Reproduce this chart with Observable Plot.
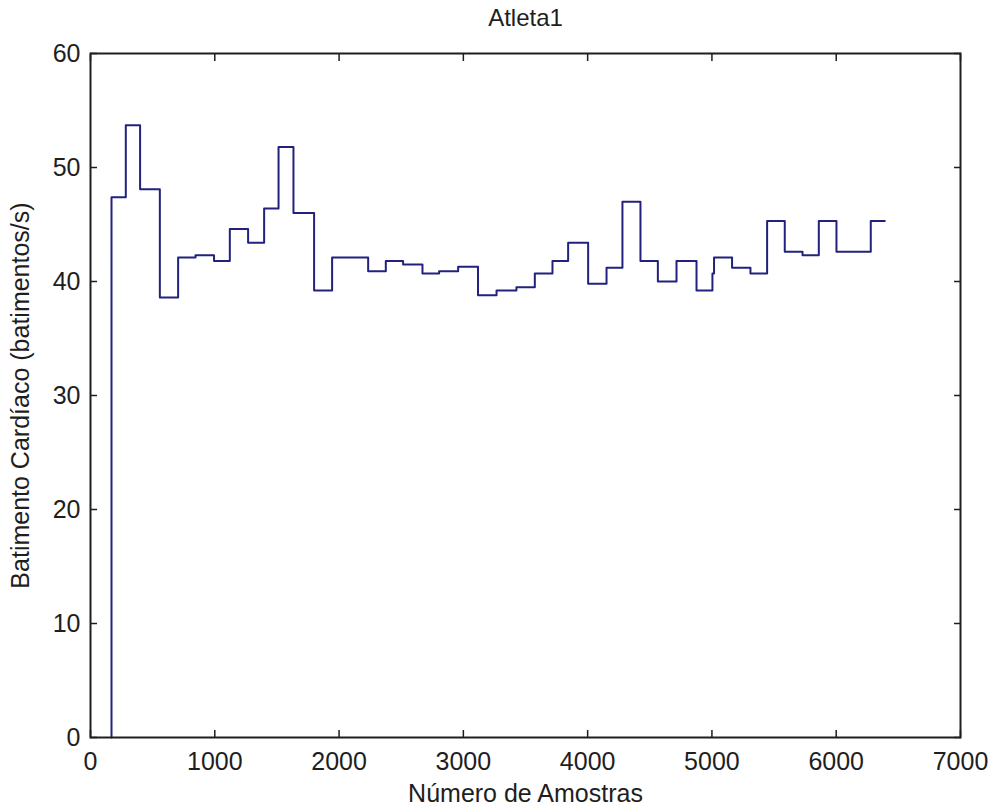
<!DOCTYPE html>
<html>
<head>
<meta charset="utf-8">
<script src="https://cdn.jsdelivr.net/npm/d3@7"></script>
<script src="https://cdn.jsdelivr.net/npm/@observablehq/plot@0.6"></script>
<style>
  html, body { margin: 0; padding: 0; background: #fff; }
  #chart svg { display: block; }
</style>
</head>
<body>
<div id="chart"></div>
<script>
// Chart data
const titleText = ["Atleta1"];
const xLabel = "Número de Amostras";
const yLabel = "Batimento Cardíaco (batimentos/s)";
const xTicks = [0, 1000, 2000, 3000, 4000, 5000, 6000, 7000];
const yTicks = [0, 10, 20, 30, 40, 50, 60];

// step start positions (sample number) and heart-rate values
const samples = [169, 169, 284, 399, 558, 705, 845, 994, 1121, 1268, 1397, 1513, 1633, 1799, 1944,
  2234, 2376, 2515, 2671, 2805, 2958, 3118, 3267, 3427, 3575, 3717, 3843, 4004, 4152, 4280,
  4425, 4565, 4715, 4876, 5004, 5017, 5162, 5310, 5444, 5586, 5729, 5860, 6002, 6278, 6391];
const heartRate = [0, 47.4, 53.7, 48.1, 38.6, 42.1, 42.3, 41.8, 44.6, 43.4, 46.4, 51.8, 46.0, 39.2, 42.1,
  40.9, 41.8, 41.5, 40.7, 40.9, 41.3, 38.8, 39.2, 39.5, 40.7, 41.8, 43.4, 39.8, 41.2, 47.0,
  41.8, 40.0, 41.8, 39.2, 40.7, 42.1, 41.2, 40.7, 45.3, 42.6, 42.3, 45.3, 42.6, 45.3, 45.3];

const data = samples.map((s, i) => ({x: s, y: heartRate[i]}));

const ink = "#1e1e1e";
const chart = Plot.plot({
  width: 990,
  height: 807,
  marginLeft: 90,
  marginRight: 30,
  marginTop: 53,
  marginBottom: 70,
  style: {fontFamily: "'Liberation Sans', Arial, sans-serif", fontSize: "25px", color: ink, background: "#fff"},
  x: {domain: [0, 7000]},
  y: {domain: [0, 60]},
  marks: [
    Plot.line(data, {x: "x", y: "y", curve: "step-after", stroke: "#22227e", strokeWidth: 2}),
    Plot.frame({stroke: ink, strokeWidth: 2}),
    Plot.axisX({anchor: "bottom", ticks: xTicks, tickSize: -7, tickPadding: 22, stroke: ink, strokeWidth: 1.5,
      fontSize: 25, tickFormat: d => String(d),
      label: xLabel, labelAnchor: "center", labelArrow: "none", labelOffset: 64}),
    Plot.axisX({anchor: "top", ticks: xTicks, tickSize: -7, stroke: ink, strokeWidth: 1.5, fill: "none", label: null}),
    Plot.axisY({anchor: "left", ticks: yTicks, tickSize: -7, tickPadding: 17, stroke: ink, strokeWidth: 1.5,
      fontSize: 25, tickFormat: d => String(d),
      label: yLabel, labelAnchor: "center", labelArrow: "none", labelOffset: 79}),
    Plot.axisY({anchor: "right", ticks: yTicks, tickSize: -7, stroke: ink, strokeWidth: 1.5, fill: "none", label: null}),
    Plot.text(titleText, {frameAnchor: "top", dy: -45, fontSize: 24, fill: ink})
  ]
});
document.getElementById("chart").appendChild(chart);
</script>
</body>
</html>
